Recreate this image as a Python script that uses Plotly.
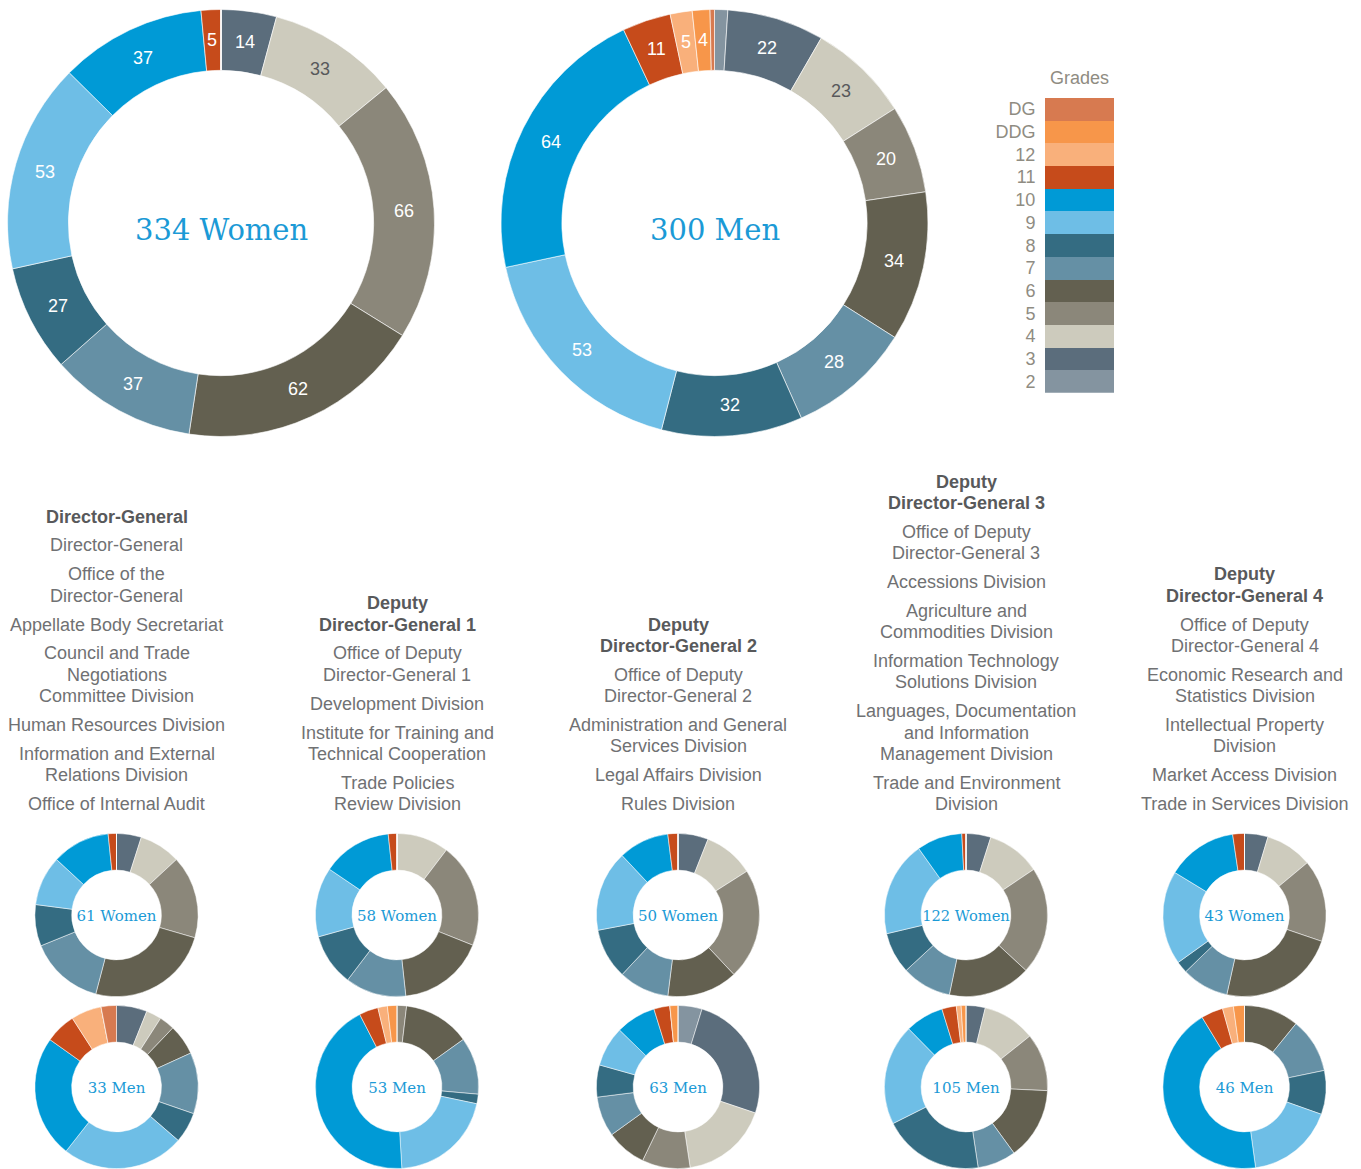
import math
import plotly.graph_objects as go

W, H = 1361, 1169

# Grades in clockwise order starting at 12 o'clock
grades = ["2", "3", "4", "5", "6", "7", "8", "9", "10", "11", "12", "DDG", "DG"]
grade_colors = [
    "#8494a0",  # 2
    "#5b6d7c",  # 3
    "#cdcbbd",  # 4
    "#8b877a",  # 5
    "#636050",  # 6
    "#6590a5",  # 7
    "#346c82",  # 8
    "#6ebee6",  # 9
    "#009ad6",  # 10
    "#c64b1b",  # 11
    "#f9b07b",  # 12
    "#f7964a",  # DDG
    "#d77a50",  # DG
]

# Secretariat totals per grade
women_total = [0, 14, 33, 66, 62, 37, 27, 53, 37, 5, 0, 0, 0]
men_total = [3, 22, 23, 20, 34, 28, 32, 53, 64, 11, 5, 4, 1]

# Per department, per grade
dg_women = [0, 3, 5, 10, 15, 9, 5, 6, 7, 1, 0, 0, 0]
dg_men = [0, 2, 1, 1, 2, 4, 2, 8, 8, 2, 2, 0, 1]
ddg1_women = [0, 0, 6, 12, 10, 7, 6, 8, 8, 1, 0, 0, 0]
ddg1_men = [0, 0, 0, 1, 7, 6, 1, 11, 23, 2, 1, 1, 0]
ddg2_women = [0, 3, 5, 11, 7, 5, 5, 8, 5, 1, 0, 0, 0]
ddg2_men = [3, 16, 11, 6, 5, 5, 4, 5, 5, 2, 0, 1, 0]
ddg3_women = [0, 6, 13, 26, 20, 12, 10, 23, 11, 1, 0, 0, 0]
ddg3_men = [0, 4, 11, 12, 15, 8, 21, 21, 8, 3, 1, 1, 0]
ddg4_women = [0, 2, 4, 7, 10, 4, 1, 8, 6, 1, 0, 0, 0]
ddg4_men = [0, 0, 0, 0, 5, 5, 4, 8, 20, 2, 1, 1, 0]

# Department headings and their divisions (each entry = lines of one item)
dg_heading = ["Director-General"]
dg_divisions = [
    ["Director-General"],
    ["Office of the", "Director-General"],
    ["Appellate Body Secretariat"],
    ["Council and Trade", "Negotiations", "Committee Division"],
    ["Human Resources Division"],
    ["Information and External", "Relations Division"],
    ["Office of Internal Audit"],
]
ddg1_heading = ["Deputy", "Director-General 1"]
ddg1_divisions = [
    ["Office of Deputy", "Director-General 1"],
    ["Development Division"],
    ["Institute for Training and", "Technical Cooperation"],
    ["Trade Policies", "Review Division"],
]
ddg2_heading = ["Deputy", "Director-General 2"]
ddg2_divisions = [
    ["Office of Deputy", "Director-General 2"],
    ["Administration and General", "Services Division"],
    ["Legal Affairs Division"],
    ["Rules Division"],
]
ddg3_heading = ["Deputy", "Director-General 3"]
ddg3_divisions = [
    ["Office of Deputy", "Director-General 3"],
    ["Accessions Division"],
    ["Agriculture and", "Commodities Division"],
    ["Information Technology", "Solutions Division"],
    ["Languages, Documentation", "and Information", "Management Division"],
    ["Trade and Environment", "Division"],
]
ddg4_heading = ["Deputy", "Director-General 4"]
ddg4_divisions = [
    ["Office of Deputy", "Director-General 4"],
    ["Economic Research and", "Statistics Division"],
    ["Intellectual Property", "Division"],
    ["Market Access Division"],
    ["Trade in Services Division"],
]

departments = [
    (dg_heading, dg_divisions, dg_women, dg_men),
    (ddg1_heading, ddg1_divisions, ddg1_women, ddg1_men),
    (ddg2_heading, ddg2_divisions, ddg2_women, ddg2_men),
    (ddg3_heading, ddg3_divisions, ddg3_women, ddg3_men),
    (ddg4_heading, ddg4_divisions, ddg4_women, ddg4_men),
]

# ---- styling / layout constants ----
SANS = "Liberation Sans, Arial, sans-serif"
SLAB = "DejaVu Serif, serif"
BLUE_TXT = "#1b9ad6"
ITEM_COL = "#707173"
HEAD_COL = "#58595b"
LEGEND_COL = "#8f8c82"

col_x = [116.5, 397, 678, 966, 1244.5]
women_cy, men_cy, small_r = 915, 1087, 81.6
big_cy, big_r, big_hole = 223, 213.5, 0.715
big_cx = [221, 714.5]


def dom(cx, cy, r):
    return dict(x=[(cx - r) / W, (cx + r) / W], y=[1 - (cy + r) / H, 1 - (cy - r) / H])


def px(x, y):
    return x / W, 1 - y / H


fig = go.Figure()
annotations = []


def add_big(values, cx, title):
    fig.add_trace(go.Pie(
        values=values, labels=grades, textinfo="none",
        marker=dict(colors=grade_colors, line=dict(color="white", width=0.6)),
        hole=big_hole, sort=False, direction="clockwise", rotation=0,
        domain=dom(cx, big_cy, big_r), showlegend=False,
        hoverinfo="label+value",
    ))
    # value labels at the middle of the ring, at each slice's mid angle
    total = sum(values)
    r_mid = big_r * (1 + big_hole) / 2
    before = 0
    for g, v in zip(grades, values):
        if v >= 4:
            theta = math.radians((before + v / 2) / total * 360)
            lx, ly = px(cx + r_mid * math.sin(theta), big_cy - r_mid * math.cos(theta))
            annotations.append(dict(
                x=lx, y=ly, xref="paper", yref="paper", xanchor="center", yanchor="middle",
                text=str(v), showarrow=False,
                font=dict(family=SANS, size=18, color="#58595b" if g == "4" else "white"),
            ))
        before += v
    tx, ty = px(cx, big_cy + 7)
    annotations.append(dict(
        x=tx, y=ty, xref="paper", yref="paper", xanchor="center", yanchor="middle",
        text=title, showarrow=False, font=dict(family=SLAB, size=29, color=BLUE_TXT),
    ))


def add_small(values, cx, cy, title):
    fig.add_trace(go.Pie(
        values=values, labels=grades, textinfo="none",
        marker=dict(colors=grade_colors, line=dict(color="white", width=0.5)),
        hole=0.55, sort=False, direction="clockwise", rotation=0,
        domain=dom(cx, cy, small_r), showlegend=False,
        title=dict(text=title, position="middle center",
                   font=dict(family=SLAB, size=15, color=BLUE_TXT)),
        hoverinfo="label+value",
    ))


add_big(women_total, big_cx[0], f"{sum(women_total)} Women")
add_big(men_total, big_cx[1], f"{sum(men_total)} Men")

LINE, GAP, BOTTOM = 21.3, 28.9, 804

for (heading, divisions, w_vals, m_vals), cx in zip(departments, col_x):
    add_small(w_vals, cx, women_cy, f"{sum(w_vals)} Women")
    add_small(m_vals, cx, men_cy, f"{sum(m_vals)} Men")

    # stack the text column upward from the common bottom line
    items = [(heading, True)] + [(d, False) for d in divisions]
    y = BOTTOM
    placed = []
    for lines, bold in reversed(items):
        for ln in reversed(lines):
            placed.append((ln, bold, y))
            y -= LINE
        y += LINE
        y -= GAP
    for ln, bold, yy in placed:
        ax, ay = px(cx, yy)
        annotations.append(dict(
            x=ax, y=ay, xref="paper", yref="paper", xanchor="center", yanchor="middle",
            text=f"<b>{ln}</b>" if bold else ln, showarrow=False,
            font=dict(family=SANS, size=18, color=HEAD_COL if bold else ITEM_COL),
        ))

# Grade colour key as a stacked column on its own axes
fig.add_trace(go.Bar(
    x=[1] * len(grades), y=grades, orientation="h", width=1,
    marker=dict(color=grade_colors, line=dict(width=0)),
    showlegend=False, hoverinfo="y", xaxis="x", yaxis="y",
))

gx, gy = px(1079.5, 78)
annotations.append(dict(
    x=gx, y=gy, xref="paper", yref="paper", xanchor="center", yanchor="middle",
    text="Grades", showarrow=False, font=dict(family=SANS, size=18, color=LEGEND_COL),
))

fig.update_layout(
    width=W, height=H,
    margin=dict(l=0, r=0, t=0, b=0),
    paper_bgcolor="white", plot_bgcolor="white",
    annotations=annotations,
    bargap=0,
    xaxis=dict(domain=[1045 / W, 1114 / W], range=[0, 1], visible=False, fixedrange=True),
    yaxis=dict(domain=[1 - 392.7 / H, 1 - 97.7 / H], type="category",
               categoryorder="array", categoryarray=grades,
               range=[-0.5, len(grades) - 0.5],
               showgrid=False, zeroline=False, showline=False,
               ticks="outside", ticklen=5, tickcolor="rgba(0,0,0,0)",
               tickfont=dict(family=SANS, size=18, color=LEGEND_COL), fixedrange=True),
)

fig.write_html("out.html")
